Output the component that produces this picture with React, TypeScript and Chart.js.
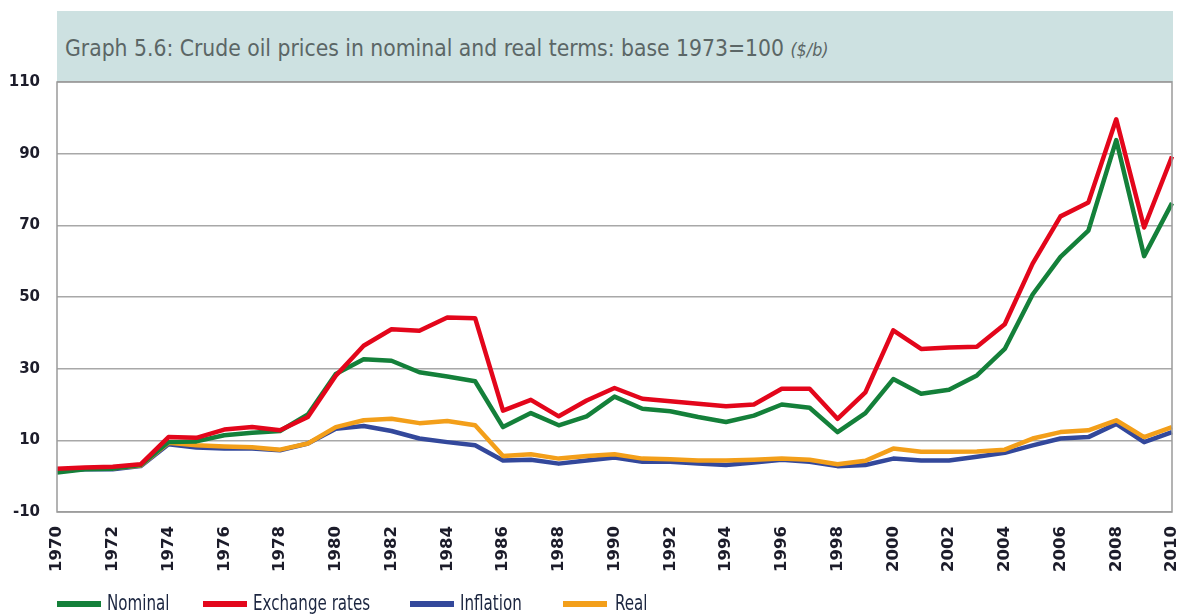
import React, { useEffect, useRef } from "react";
import { Chart, registerables } from "chart.js";

Chart.register(...registerables);

const years: string[] = [];
for (let y = 1970; y <= 2010; y++) years.push(String(y));

const nominal = [
  1.0, 1.9, 2.1, 3.1, 9.5, 9.7, 11.4, 12.1, 12.6, 17.2,
  28.5, 32.6, 32.2, 29.0, 27.8, 26.5, 13.7, 17.6, 14.2, 16.7,
  22.2, 18.8, 18.1, 16.5, 15.1, 16.9, 20.0, 19.1, 12.3, 17.6,
  27.1, 23.0, 24.1, 28.1, 35.5, 50.7, 61.2, 68.5, 93.8, 61.4, 76.2,
];
const exchangeRates = [
  2.1, 2.4, 2.6, 3.3, 10.9, 10.7, 13.0, 13.7, 12.8, 16.5,
  28.0, 36.4, 41.0, 40.6, 44.3, 44.1, 18.3, 21.3, 16.7, 21.1,
  24.6, 21.6, 20.9, 20.2, 19.5, 20.0, 24.4, 24.4, 16.0, 23.4,
  40.7, 35.5, 35.9, 36.1, 42.4, 59.3, 72.5, 76.4, 99.6, 69.4, 89.2,
];
const inflation = [
  1.5, 1.9, 1.9, 2.8, 8.9, 8.0, 7.7, 7.7, 7.2, 9.1,
  13.2, 14.0, 12.6, 10.5, 9.5, 8.6, 4.4, 4.6, 3.5, 4.4,
  5.2, 4.0, 4.0, 3.5, 3.1, 3.8, 4.6, 4.0, 2.8, 3.1,
  4.9, 4.4, 4.4, 5.4, 6.5, 8.6, 10.5, 10.9, 14.6, 9.5, 12.3,
];
const real = [
  1.8, 2.1, 2.2, 3.0, 9.3, 8.6, 8.3, 8.1, 7.4, 9.1,
  13.7, 15.6, 16.0, 14.8, 15.4, 14.2, 5.6, 6.1, 4.9, 5.6,
  6.1, 4.9, 4.7, 4.4, 4.4, 4.6, 4.9, 4.6, 3.3, 4.3,
  7.7, 6.8, 6.8, 6.9, 7.4, 10.5, 12.3, 12.8, 15.6, 10.9, 13.7,
];

const seriesNames = ["Nominal", "Exchange rates", "Inflation", "Real"];
const seriesColors = ["#14803a", "#e3061b", "#33489b", "#f39f1a"];

const yMin = -10;
const yMax = 110;
const yStep = 20;

const titleText = "Graph 5.6: Crude oil prices in nominal and real terms: base 1973=100";
const titleUnit = "($/b)";

const NARROW = "'Liberation Sans Narrow', 'DejaVu Sans Condensed', 'Noto Sans', sans-serif";
const AXISFONT = "'DejaVu Sans', Verdana, sans-serif";

const framePlugin = {
  id: "frame",
  afterDraw(chart: any) {
    const { ctx, chartArea } = chart;
    ctx.save();
    ctx.strokeStyle = "#9a9a9a";
    ctx.lineWidth = 1.5;
    ctx.strokeRect(chartArea.left, chartArea.top, chartArea.right - chartArea.left, chartArea.bottom - chartArea.top);
    ctx.restore();
  },
};

export default function App() {
  const canvasRef = useRef<HTMLCanvasElement | null>(null);

  useEffect(() => {
    const data = [nominal, exchangeRates, inflation, real];
    const orders = [1, 0, 3, 2];
    const chart = new Chart(canvasRef.current as HTMLCanvasElement, {
      type: "line",
      data: {
        labels: years,
        datasets: data.map((d, i) => ({
          label: seriesNames[i],
          data: d,
          borderColor: seriesColors[i],
          backgroundColor: seriesColors[i],
          borderWidth: 4.5,
          pointRadius: 0,
          tension: 0,
          order: orders[i],
          borderJoinStyle: "round" as const,
        })),
      },
      options: {
        animation: false,
        responsive: false,
        maintainAspectRatio: false,
        layout: { padding: { top: 82, right: 10, left: 0, bottom: 0 } },
        plugins: {
          legend: { display: false },
          title: { display: false },
          tooltip: { enabled: false },
        },
        scales: {
          x: {
            type: "category",
            offset: false,
            grid: { display: false, drawTicks: false },
            border: { display: false },
            ticks: {
              autoSkip: false,
              minRotation: 90,
              maxRotation: 90,
              padding: 14,
              color: "#1c1c2a",
              font: { family: AXISFONT, size: 16.5, weight: "600" },
              callback: (_v: any, i: number) => (i % 2 === 0 ? years[i] : ""),
            },
            afterFit: (s: any) => {
              s.height = 102;
              s.paddingLeft = 0;
              s.paddingRight = 0;
            },
          },
          y: {
            min: yMin,
            max: yMax,
            grid: { color: "#a8a8a8", lineWidth: 1.5, drawTicks: false },
            border: { display: false },
            ticks: {
              stepSize: yStep,
              padding: 17,
              color: "#1c1c2a",
              font: { family: AXISFONT, size: 15, weight: "600" },
            },
            afterFit: (s: any) => {
              s.width = 57;
            },
          },
        },
      },
      plugins: [framePlugin],
    });
    return () => chart.destroy();
  }, []);

  const legendPos = [
    { sw: 57, tx: 107 },
    { sw: 203, tx: 253 },
    { sw: 410, tx: 460 },
    { sw: 563, tx: 615 },
  ];

  return (
    <div style={{ position: "absolute", left: 0, top: 0, width: 1182, height: 614, background: "#fff", overflow: "hidden" }}>
      <div
        style={{
          position: "absolute",
          left: 57,
          top: 11,
          width: 1116,
          height: 71,
          background: "#cde1e1",
        }}
      >
        <div
          style={{
            position: "absolute",
            left: 8,
            top: 24,
            fontFamily: NARROW,
            fontSize: 23,
            color: "#5b6666",
            whiteSpace: "nowrap",
            transform: "scaleX(0.985)",
            transformOrigin: "left center",
          }}
        >
          {titleText}{" "}
          <span style={{ fontStyle: "italic", fontSize: 18 }}>{titleUnit}</span>
        </div>
      </div>
      <canvas ref={canvasRef} width={1182} height={614} style={{ position: "absolute", left: 0, top: 0 }} />
      {seriesNames.map((n, i) => (
        <React.Fragment key={n}>
          <div
            style={{
              position: "absolute",
              left: legendPos[i].sw,
              top: 601,
              width: 44,
              height: 6,
              background: seriesColors[i],
            }}
          />
          <div
            style={{
              position: "absolute",
              left: legendPos[i].tx,
              top: 591,
              fontFamily: NARROW,
              fontSize: 21,
              lineHeight: "24px",
              color: "#1c2640",
              whiteSpace: "nowrap",
              transform: "scaleX(0.8)",
              transformOrigin: "left center",
            }}
          >
            {n}
          </div>
        </React.Fragment>
      ))}
    </div>
  );
}
